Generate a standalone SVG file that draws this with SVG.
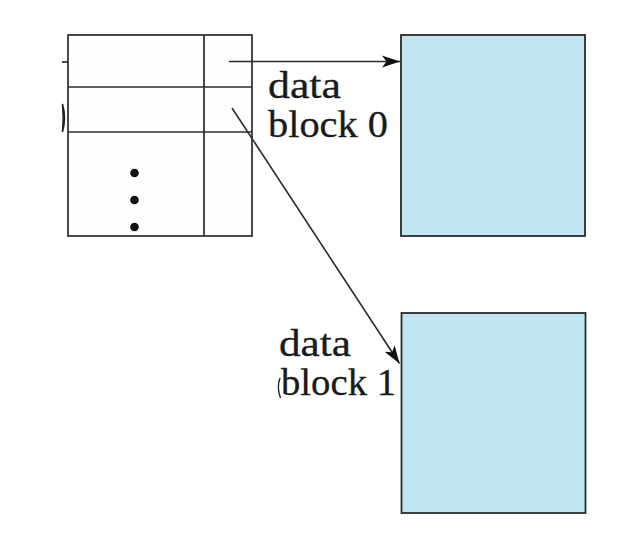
<svg xmlns="http://www.w3.org/2000/svg" width="636" height="538" viewBox="0 0 636 538">
<style>
.tbl{fill:#fefefe;stroke:#2b2b2b;stroke-width:1.7}
.ln{stroke:#2b2b2b;stroke-width:1.7;fill:none}
.blk{fill:#c2e6f1;stroke:#2b2b2b;stroke-width:1.8}
.lbl{font-family:"Liberation Serif","Times New Roman",serif;font-size:37px;fill:#1a1a1a;stroke:#1a1a1a;stroke-width:0.3}
.dot{fill:#111}
.con{stroke:#2b2b2b;stroke-width:1.6;fill:none;marker-end:url(#ah)}
</style>
<defs>
<marker id="ah" markerWidth="20" markerHeight="14" refX="18" refY="7" orient="auto" markerUnits="userSpaceOnUse">
<path d="M0,1 L18,7 L0,13 L4.5,7 Z" fill="#111"/>
</marker>
</defs>
<rect width="636" height="538" fill="#ffffff"/>
<g id="index-table">
<rect class="tbl" x="68" y="35" width="184" height="201"/>
<line class="ln" x1="204" y1="35" x2="204" y2="236"/>
<line class="ln" x1="68" y1="87" x2="252" y2="87"/>
<line class="ln" x1="68" y1="132" x2="252" y2="132"/>
<circle class="dot" cx="134.5" cy="173" r="4.3"/>
<circle class="dot" cx="134.5" cy="200" r="4.3"/>
<circle class="dot" cx="134.5" cy="227" r="4.3"/>
<line class="ln" x1="62" y1="62" x2="68" y2="62"/>
<path d="M62.5,104 Q66.5,118 62.5,132 Q64,118 62.5,104 Z" fill="#222" stroke="#222" stroke-width="1.5"/>
</g>
<g id="data-block-0">
<rect class="blk" x="401" y="35" width="184" height="201"/>
<text class="lbl" x="268" y="98" textLength="73" lengthAdjust="spacingAndGlyphs">data</text>
<text class="lbl" x="268" y="137" textLength="120" lengthAdjust="spacingAndGlyphs">block 0</text>
</g>
<g id="data-block-1">
<rect class="blk" x="401.5" y="313" width="184" height="200"/>
<text class="lbl" x="279" y="356" textLength="72" lengthAdjust="spacingAndGlyphs">data</text>
<text class="lbl" x="281" y="395" textLength="115" lengthAdjust="spacingAndGlyphs">block 1</text>
<path d="M280,378 Q276.5,387 280.5,398" fill="none" stroke="#222" stroke-width="1.4"/>
</g>
<g id="connectors">
<line class="con" x1="229" y1="61.5" x2="400" y2="61.5"/>
<line class="con" x1="232" y1="108" x2="399.5" y2="363.5"/>
</g>
</svg>
